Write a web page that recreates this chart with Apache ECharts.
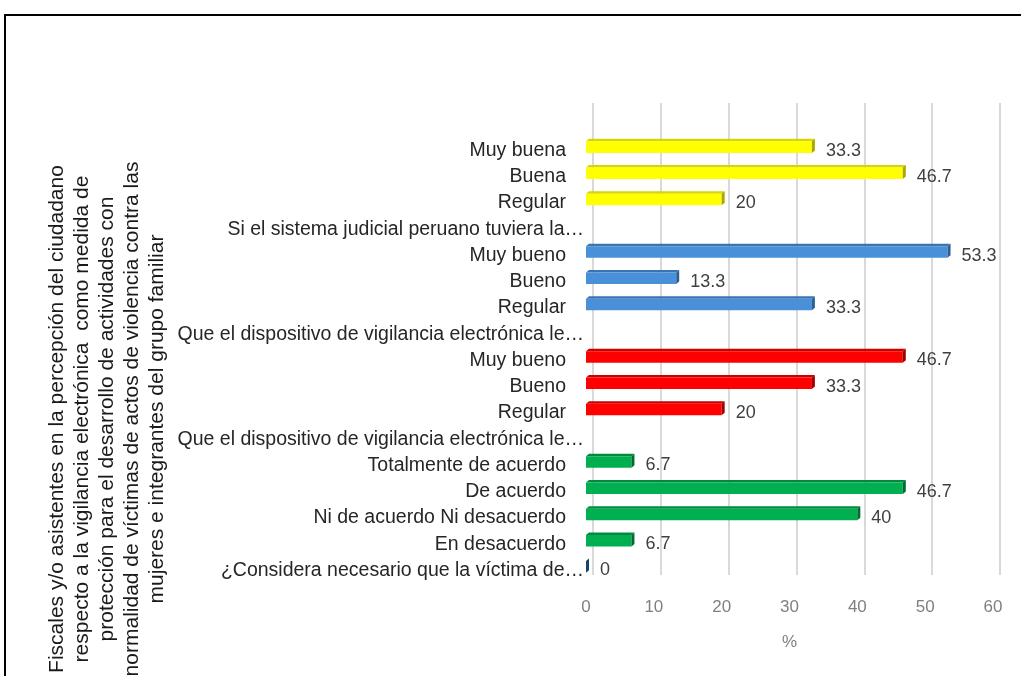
<!DOCTYPE html>
<html>
<head>
<meta charset="utf-8">
<script src="https://cdn.jsdelivr.net/npm/echarts@6/dist/echarts.min.js"></script>
<style>html,body{margin:0;padding:0;background:#fff}#c{width:1021px;height:676px}</style>
</head>
<body>
<div id="c"></div>
<script>
// ---- data ----
const categories = [
  'Muy buena', 'Buena', 'Regular',
  'Si el sistema judicial peruano tuviera la…',
  'Muy bueno', 'Bueno', 'Regular',
  'Que el dispositivo de vigilancia electrónica le…',
  'Muy bueno', 'Bueno', 'Regular',
  'Que el dispositivo de vigilancia electrónica le…',
  'Totalmente de acuerdo', 'De acuerdo', 'Ni de acuerdo Ni desacuerdo', 'En desacuerdo',
  '¿Considera necesario que la víctima de…'
];
const values = [33.3, 46.7, 20, null, 53.3, 13.3, 33.3, null, 46.7, 33.3, 20, null, 6.7, 46.7, 40, 6.7, 0];
const groupOf = [0, 0, 0, null, 1, 1, 1, null, 2, 2, 2, null, 3, 3, 3, 3, 4];
const xTicks = [0, 10, 20, 30, 40, 50, 60];
const xAxisTitle = '%';
const yAxisTitleLines = [
  'Fiscales y/o asistentes en la percepción del ciudadano',
  'respecto a la vigilancia electrónica  como medida de',
  'protección para el desarrollo de actividades con',
  'normalidad de víctimas de actos de violencia contra las',
  'mujeres e integrantes del grupo familiar'
];

// ---- styles ----
const FONT = "'Liberation Sans', Arial, sans-serif";
const palette = [
  { face: '#ffff00', top: '#d6d600', side: '#a8a800' },
  { face: '#4a90d9', top: '#3a74b4', side: '#2c5f96' },
  { face: '#ff0000', top: '#cc0000', side: '#a00000' },
  { face: '#00b050', top: '#008a3e', side: '#006b30' },
  { face: '#1f4e79', top: '#17395a', side: '#1a4466' }
];

const barData = [];
values.forEach((v, i) => { if (v !== null) barData.push([v, i, groupOf[i]]); });

function renderItem(params, api) {
  const v = api.value(0), cat = api.value(1), g = api.value(2);
  const p0 = api.coord([0, cat]);
  const p1 = api.coord([v, cat]);
  const h = api.size([0, 1])[1] * 0.44;
  const y0 = p0[1] - h / 2;
  const dx = 3, dy = 2.5;
  const c = palette[g];
  return {
    type: 'group',
    children: [
      { type: 'polygon', shape: { points: [[p0[0], y0], [p0[0] + dx, y0 - dy], [p1[0] + dx, y0 - dy], [p1[0], y0]] }, style: { fill: c.top } },
      { type: 'rect', shape: { x: p0[0], y: y0, width: p1[0] - p0[0], height: h }, style: { fill: c.face } },
      { type: 'polygon', shape: { points: [[p1[0], y0], [p1[0] + dx, y0 - dy], [p1[0] + dx, y0 + h - dy], [p1[0], y0 + h]] }, style: { fill: c.side } },
      { type: 'text', x: p1[0] + dx + 11, y: p0[1] + 3.5, style: { text: String(v), fill: '#404040', font: '18px ' + FONT, verticalAlign: 'middle', align: 'left' } }
    ]
  };
}

const chart = echarts.init(document.getElementById('c'), null, { renderer: 'canvas' });
chart.setOption({
  backgroundColor: '#ffffff',
  animation: false,
  grid: [
    { left: 586, right: 28, top: 134, bottom: 96 },
    { left: 593, right: 21, top: 103, bottom: 101 }
  ],
  xAxis: [
    {
      gridIndex: 0, type: 'value', min: xTicks[0], max: xTicks[xTicks.length - 1], interval: 10,
      axisLine: { show: false }, axisTick: { show: false }, splitLine: { show: false },
      axisLabel: { color: '#808080', fontSize: 17, fontFamily: FONT, margin: 19 },
      name: xAxisTitle, nameLocation: 'middle', nameGap: 54,
      nameTextStyle: { color: '#808080', fontSize: 17, fontFamily: FONT }
    },
    {
      gridIndex: 1, type: 'value', min: xTicks[0], max: xTicks[xTicks.length - 1], interval: 10,
      axisLine: { show: false }, axisTick: { show: false }, axisLabel: { show: false },
      splitLine: { show: true, lineStyle: { color: '#d9d9d9', width: 2 } }
    }
  ],
  yAxis: [
    {
      gridIndex: 0, type: 'category', data: categories, inverse: true,
      axisLine: { show: false }, axisTick: { show: false }, splitLine: { show: false },
      axisLabel: {
        fontFamily: FONT, fontSize: 19.5, color: '#262626', margin: 2, interval: 0,
        formatter: (v) => v.endsWith('…') ? '{t|' + v + '}' : '{n|' + v + '}',
        rich: {
          t: { fontFamily: FONT, fontSize: 19.5, color: '#262626', padding: [7, 0, 0, 0] },
          n: { fontFamily: FONT, fontSize: 19.5, color: '#262626', padding: [7, 18, 0, 0] }
        }
      }
    },
    { gridIndex: 1, type: 'value', show: false }
  ],
  series: [
    {
      type: 'custom', xAxisIndex: 0, yAxisIndex: 0, renderItem: renderItem,
      data: barData, encode: { x: 0, y: 1 }, clip: false
    }
  ],
  graphic: [
    { type: 'rect', shape: { x: 5, y: 15, width: 1040, height: 720 }, style: { fill: null, stroke: '#000', lineWidth: 2 }, silent: true, z: 100 },
    {
      type: 'text', x: 107, y: 419, rotation: Math.PI / 2,
      style: { text: yAxisTitleLines.join('\n'), font: '21px ' + FONT, fill: '#1a1a1a', align: 'center', verticalAlign: 'middle', lineHeight: 25 }
    }
  ]
});
</script>
</body>
</html>
